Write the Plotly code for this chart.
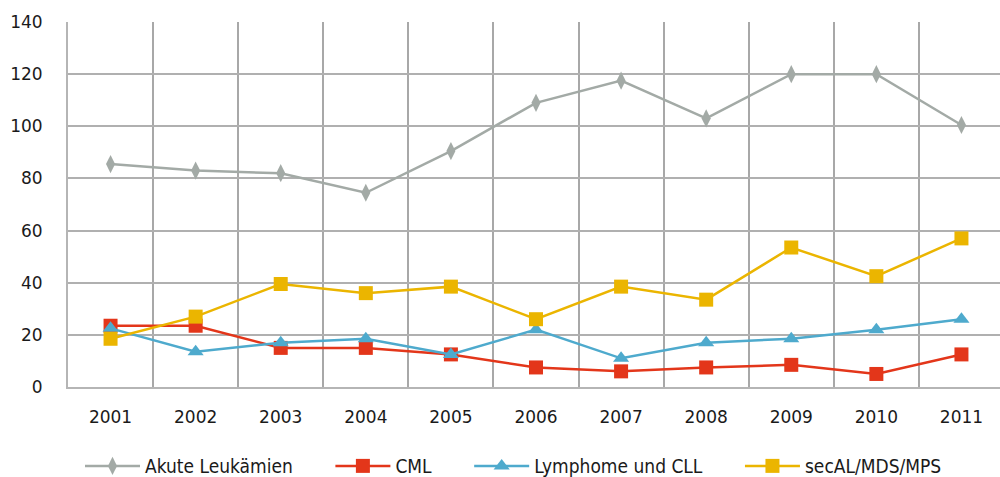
import plotly.graph_objects as go

years = ["2001", "2002", "2003", "2004", "2005", "2006", "2007", "2008", "2009", "2010", "2011"]
akute = [85.5, 83, 82, 74.5, 90.5, 109, 117.5, 103, 120, 120, 100.5]
cml = [23.5, 23.5, 15, 15, 12.5, 7.5, 6, 7.5, 8.5, 5, 12.5]
lymphome = [22.5, 13.5, 17, 18.5, 12.5, 22, 11, 17, 18.5, 22, 26]
secal = [18.5, 27, 39.5, 36, 38.5, 26, 38.5, 33.5, 53.5, 42.5, 57]

series = [
    ("Akute Leukämien", akute, "#a3aaa6", "diamond-tall", 13),
    ("CML", cml, "#e3361a", "square", 14),
    ("Lymphome und CLL", lymphome, "#4eaacd", "triangle-up", 14),
    ("secAL/MDS/MPS", secal, "#ebb500", "square", 14),
]

# non-breaking spaces widen the gap between legend entries
pad = "\u00a0" * 6

fig = go.Figure()
for name, vals, color, symbol, size in series:
    fig.add_trace(go.Scatter(
        x=years, y=vals, name=name + pad, mode="lines+markers",
        line=dict(color=color, width=2.5),
        marker=dict(symbol=symbol, size=size, color=color),
    ))

font = "DejaVu Sans"
fig.update_layout(
    width=1000, height=477,
    margin=dict(l=68, r=0, t=22, b=90),
    plot_bgcolor="white", paper_bgcolor="white",
    font=dict(family=font, size=17, color="#1a1a1a"),
    showlegend=True,
    legend=dict(
        orientation="h", xref="container", yref="container",
        x=0.08, y=0.023, xanchor="left", yanchor="middle",
        font=dict(family="DejaVu Sans Condensed", size=19, color="#1a1a1a"),
        itemwidth=55, traceorder="normal",
    ),
    xaxis=dict(
        type="category", range=[-0.5, 10.453],
        tickson="boundaries", showgrid=True, gridcolor="#a8a8a8", gridwidth=1.5,
        showline=True, linecolor="#b5b5b5", linewidth=2,
        ticks="", ticklabelstandoff=14,
        tickfont=dict(family=font, size=17),
    ),
    yaxis=dict(
        range=[0, 140], dtick=20, showgrid=True, gridcolor="#b0b0b0", gridwidth=1.5,
        showline=True, linecolor="#b5b5b5", linewidth=2, zeroline=False,
        ticks="outside", ticklen=20, tickcolor="rgba(0,0,0,0)",
        tickfont=dict(family=font, size=17),
    ),
)

fig.write_html("out.html")
